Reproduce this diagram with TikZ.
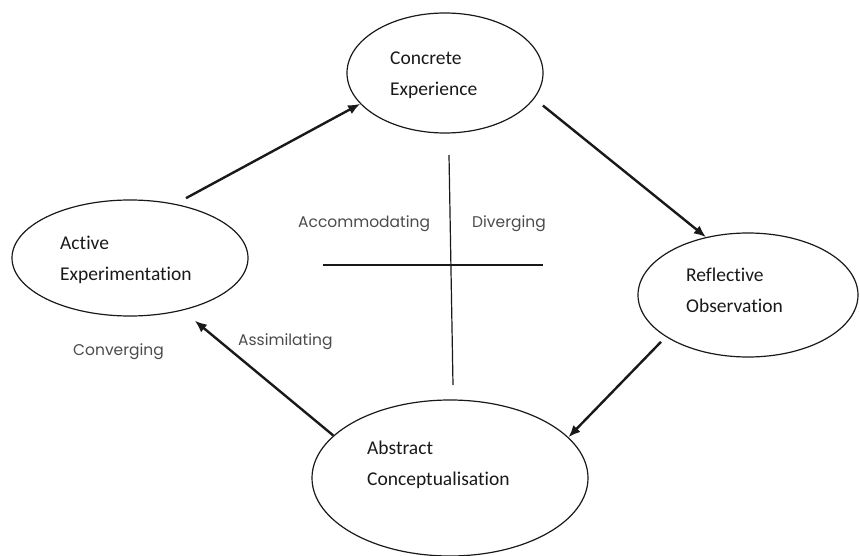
\documentclass[tikz,border=0pt]{standalone}
\usepackage{fontspec}
\usetikzlibrary{arrows.meta,shapes.geometric}
\newfontfamily\stagefont{Carlito}[Ligatures=NoCommon]
\newfontfamily\stylefont{Poppins}
\definecolor{lkInk} {RGB}{ 25, 25, 25}
\definecolor{lkGrey}{RGB}{ 75, 75, 75}

\begin{document}
\begin{tikzpicture}[x=1pt,y=-1pt,
  stage/.style={draw=lkInk,ellipse,line width=1.2pt,inner sep=0pt},
  stagetxt/.style={anchor=west,align=left,inner sep=0pt,text=lkInk,
                   font=\stagefont\fontsize{19.5}{31}\selectfont},
  styletxt/.style={anchor=base west,inner sep=0pt,text=lkGrey,
                   font=\stylefont\fontsize{15.5}{18}\selectfont},
  cycle/.style={line width=2.4pt,draw=lkInk,-{Latex[length=12pt,width=10pt]}},
  quad/.style={line width=1.2pt,draw=lkInk}]
\useasboundingbox (0,0) rectangle (860,556);
% The four stages (centre x/y, radii)
\foreach \nm/\x/\y/\rx/\ry in {
   ce/445/73/98/60,
   ro/748/295/110/62,
   ac/450/478/138/78,
   ae/130/258/118/58
}{
  \node[stage,minimum width=2*\rx,minimum height=2*\ry] (\nm) at (\x,\y) {};
}
\node[stagetxt] (ceLbl) at (390,75)  {Concrete\\Experience};
\node[stagetxt] (roLbl) at (686,290) {Reflective\\Observation};
\node[stagetxt] (acLbl) at (367,465) {Abstract\\Conceptualisation};
\node[stagetxt] (aeLbl) at (60,260)  {Active\\Experimentation};
% Cross splitting the learning styles
\draw[quad] (449,155) -- (453,385);
\draw[quad] (323,265) -- (543,265);
\node[styletxt] (accom) at (298,228) {Accommodating};
\node[styletxt] (diver) at (472,228) {Diverging};
\node[styletxt] (conv)  at (73,355)  {Converging};
\node[styletxt] (assim) at (238,345) {Assimilating};
% Cycle arrows
\draw[cycle,shorten <=12pt] (ae.50)  -- (ce.200);
\draw[cycle,shorten <=11pt] (ce.-16) -- (ro.126);
\draw[cycle,shorten <=7pt]  (ro.207) -- (ac.19);
\draw[cycle,shorten >=16pt] (ac.160) -- (ae.-45);
\end{tikzpicture}
\end{document}
